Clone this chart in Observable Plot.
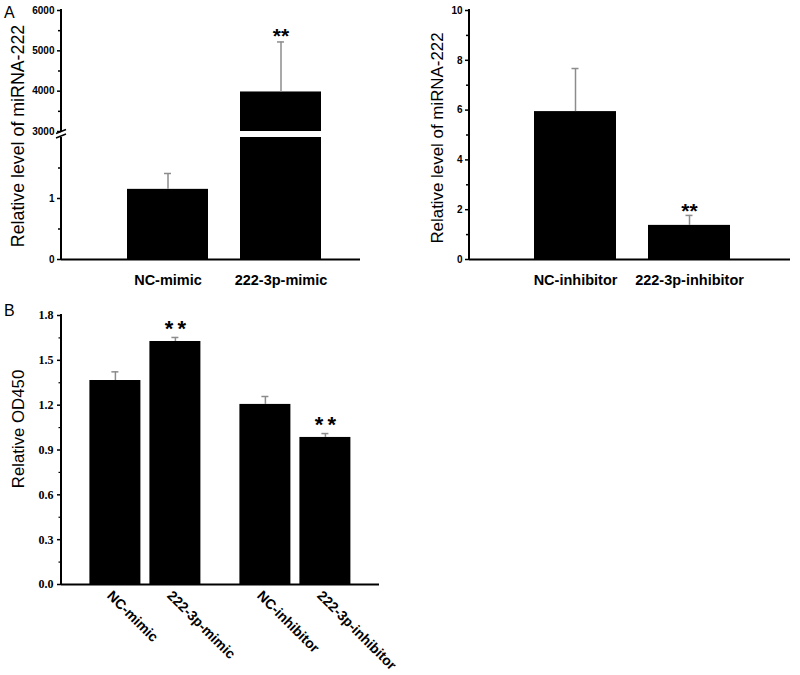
<!DOCTYPE html>
<html><head><meta charset="utf-8">
<script src="https://cdn.jsdelivr.net/npm/d3@7"></script>
<script src="https://cdn.jsdelivr.net/npm/@observablehq/plot@0.6"></script>
<style>
html,body{margin:0;padding:0;background:#fff}
#root{position:relative;width:800px;height:675px;overflow:hidden;background:#fff;font-family:"Liberation Sans",Arial,sans-serif;color:#000}
#root svg{overflow:visible;display:block}
.ytitle{position:absolute;white-space:nowrap;transform:translate(-50%,-50%) rotate(-90deg);line-height:1;font-family:"Liberation Sans",Arial,sans-serif}
.tag{position:absolute;font-size:16px;line-height:1;font-family:"Liberation Sans",Arial,sans-serif}
</style></head><body><div id="root"></div>
<script>
// ---------- data ----------
const mimicGroups = ["NC-mimic", "222-3p-mimic"];
const mimicLevel = [1.15, 3980];
const mimicSE = [0.26, 1240];
const mimicSig = ["", "**"];
const mimicUpperTicks = [3000, 4000, 5000, 6000];
const mimicUpperMinor = [3500, 4500, 5500];
const mimicLowerTicks = [0, 1];
const mimicLowerMinor = [0.5, 1.5];

const inhibGroups = ["NC-inhibitor", "222-3p-inhibitor"];
const inhibLevel = [5.94, 1.37];
const inhibSE = [1.73, 0.40];
const inhibSig = ["", "**"];
const inhibTicks = [0, 2, 4, 6, 8, 10];
const inhibMinor = [1, 3, 5, 7, 9];

const odLabels = ["NC-mimic", "222-3p-mimic", "NC-inhibitor", "222-3p-inhibitor"];
const odSet = ["mimic", "mimic", "inhibitor", "inhibitor"];
const odCond = ["NC", "222-3p", "NC", "222-3p"];
const odValue = [1.365, 1.626, 1.205, 0.984];
const odSE = [0.058, 0.027, 0.053, 0.026];
const odSig = ["", "**", "", "**"];
const odTicks = [0, 0.3, 0.6, 0.9, 1.2, 1.5, 1.8];
const odMinor = [0.15, 0.45, 0.75, 1.05, 1.35, 1.65];
const odSetOrder = ["mimic", "inhibitor"];
const odCondOrder = ["NC", "222-3p"];

// ---------- helpers ----------
const sans = '"Liberation Sans", Arial, Helvetica, sans-serif';
const serif = '"Liberation Serif", "Times New Roman", Times, serif';
const errColor = "#8c8c8c";
const root = document.getElementById("root");

function mount(svg, left, top, w, h) {
  const d = document.createElement("div");
  d.style.cssText = `position:absolute;left:${left}px;top:${top}px;width:${w}px;height:${h}px;`;
  d.appendChild(svg); root.appendChild(d); return svg;
}
function vline(svg, x, y1, y2) {
  d3.select(svg).append("line").attr("x1", x).attr("x2", x).attr("y1", y1).attr("y2", y2)
    .attr("stroke", "#000").attr("stroke-width", 2);
}
function addText(cls, txt, left, top, size) {
  const d = document.createElement("div");
  d.className = cls; d.textContent = txt;
  d.style.left = left + "px"; d.style.top = top + "px";
  if (size) d.style.fontSize = size + "px";
  root.appendChild(d);
}
function barMarks(data, x, capInset) {
  return [
    Plot.barY(data, {x, y: "level", fill: "#000", clip: true}),
    Plot.ruleX(data, {x, y1: "level", y2: d => d.level + d.se, stroke: errColor, strokeWidth: 1.5, clip: true}),
    Plot.tickY(data, {x, y: d => d.level + d.se, stroke: errColor, strokeWidth: 1.5, insetLeft: capInset, insetRight: capInset, clip: true})
  ];
}

const mimicData = mimicGroups.map((g, i) => ({group: g, level: mimicLevel[i], se: mimicSE[i], sig: mimicSig[i]}));
const inhibData = inhibGroups.map((g, i) => ({group: g, level: inhibLevel[i], se: inhibSE[i], sig: inhibSig[i]}));
const odData = odLabels.map((g, i) => ({label: g, set: odSet[i], cond: odCond[i], level: odValue[i], se: odSE[i], sig: odSig[i]}));

const styleA = {background: "transparent", fontFamily: sans, fontSize: "10px", fontWeight: "bold", color: "#000"};
const tickA = {fontSize: 10, fontFamily: sans, fontWeight: "bold"};

// ---------- Panel A left : upper segment (broken axis) ----------
const aUpper = Plot.plot({
  width: 360, height: 131, marginTop: 10, marginBottom: 0, marginLeft: 61, marginRight: 0,
  x: {domain: mimicGroups, range: [127, 321], paddingInner: 0.286, paddingOuter: 0, axis: null},
  y: {domain: [3000, 6000], label: null},
  style: styleA,
  marks: [
    ...barMarks(mimicData, "group", 37),
    Plot.text(mimicData, {x: "group", y: d => d.level + d.se, text: "sig", fontSize: 21, fontWeight: "bold", dy: -6}),
    Plot.axisY({ticks: mimicUpperTicks, tickSize: 4, tickPadding: 3, strokeWidth: 1.5, tickFormat: d => String(d), label: null, ...tickA}),
    Plot.axisY({ticks: mimicUpperMinor, tickSize: 3, strokeWidth: 1.5, tickFormat: () => "", label: null})
  ]
});
mount(aUpper, 0, 0, 360, 131);
vline(aUpper, 61, 9, 131);
// break marks on the axis
d3.select(aUpper).append("line").attr("x1", 56).attr("y1", 133.5).attr("x2", 66).attr("y2", 129.5).attr("stroke", "#000").attr("stroke-width", 1.5);
d3.select(aUpper).append("line").attr("x1", 56).attr("y1", 138).attr("x2", 66).attr("y2", 134).attr("stroke", "#000").attr("stroke-width", 1.5);

// ---------- Panel A left : lower segment ----------
const aLower = Plot.plot({
  width: 360, height: 175, marginTop: 11, marginBottom: 42, marginLeft: 61, marginRight: 0,
  x: {domain: mimicGroups, range: [127, 321], paddingInner: 0.286, paddingOuter: 0, label: null},
  y: {domain: [0, 2], label: null},
  style: styleA,
  marks: [
    ...barMarks(mimicData, "group", 37),
    Plot.ruleY([0], {strokeWidth: 2}),
    Plot.axisY({ticks: mimicLowerTicks, tickSize: 4, tickPadding: 3, strokeWidth: 1.5, tickFormat: d => String(d), label: null, ...tickA}),
    Plot.axisY({ticks: mimicLowerMinor, tickSize: 3, strokeWidth: 1.5, tickFormat: () => "", label: null}),
    Plot.axisX({tickSize: 0, tickPadding: 15, fontSize: 14.5, fontWeight: "bold", fontFamily: sans, label: null})
  ]
});
mount(aLower, 0, 126, 360, 175);
vline(aLower, 61, 11, 134);

// ---------- Panel A right ----------
const aRight = Plot.plot({
  width: 400, height: 301, marginTop: 10, marginBottom: 42, marginLeft: 69, marginRight: 10,
  x: {domain: inhibGroups, range: [134, 330], paddingInner: 0.281, paddingOuter: 0, label: null},
  y: {domain: [0, 10], label: null},
  style: styleA,
  marks: [
    ...barMarks(inhibData, "group", 37.5),
    Plot.text(inhibData, {x: "group", y: d => d.level + d.se, text: "sig", fontSize: 21, fontWeight: "bold", dy: -4}),
    Plot.ruleY([0], {strokeWidth: 2}),
    Plot.axisY({ticks: inhibTicks, tickSize: 4, tickPadding: 3, strokeWidth: 1.5, tickFormat: d => String(d), label: null, ...tickA}),
    Plot.axisY({ticks: inhibMinor, tickSize: 3, strokeWidth: 1.5, tickFormat: () => "", label: null}),
    Plot.axisX({tickSize: 0, tickPadding: 15, fontSize: 14.5, fontWeight: "bold", fontFamily: sans, label: null})
  ]
});
mount(aRight, 400, 0, 400, 301);
vline(aRight, 69, 9, 260);

// ---------- Panel B : axes layer ----------
const styleB = {background: "transparent", fontFamily: serif, fontSize: "12px", fontWeight: "bold", color: "#000"};
const bAxes = Plot.plot({
  width: 380, height: 375, marginTop: 15, marginBottom: 91, marginLeft: 61, marginRight: 1,
  y: {domain: [0, 1.8], label: null},
  style: styleB,
  marks: [
    Plot.ruleY([0], {strokeWidth: 2}),
    Plot.axisY({ticks: odTicks, tickSize: 4, tickPadding: 4, strokeWidth: 1.5, tickFormat: d3.format(".1f"), label: null,
      fontFamily: serif, fontSize: 12, fontWeight: "bold"}),
    Plot.axisY({ticks: odMinor, tickSize: 2.5, strokeWidth: 1.2, tickFormat: () => "", label: null})
  ]
});
mount(bAxes, 0, 300, 380, 375);
vline(bAxes, 61, 14, 285);

// ---------- Panel B : grouped bars layer ----------
const bBars = Plot.plot({
  width: 380, height: 375, marginTop: 15, marginBottom: 91, marginLeft: 69.6, marginRight: 9.9,
  facet: {data: odData, x: "set"},
  fx: {domain: odSetOrder, padding: 0, axis: null, label: null},
  x: {domain: odCondOrder, paddingInner: 0.157, paddingOuter: 0.32, axis: null, label: null},
  y: {domain: [0, 1.8], axis: null, label: null},
  style: {...styleB, fontFamily: sans},
  marks: [
    ...barMarks(odData, "cond", 22),
    Plot.text(odData, {x: "cond", y: d => d.level + d.se, text: d => d.sig.split("").join("\u2009"), fontSize: 22, fontWeight: "bold", dy: -9, fontFamily: sans}),
    Plot.text(odData, {x: "cond", text: "label", frameAnchor: "bottom", rotate: 45, textAnchor: "start", lineAnchor: "top", dx: -2, dy: 5, fontSize: 14, fontWeight: "bold", fontFamily: sans})
  ]
});
mount(bBars, 0, 300, 380, 375);

// ---------- titles and panel tags ----------
addText("ytitle", "Relative level of miRNA-222", 19, 136, 17.8);
addText("ytitle", "Relative level of miRNA-222", 437.5, 137.5, 16.9);
addText("ytitle", "Relative OD450", 19, 429, 16.8);
addText("tag", "A", 4, 5);
addText("tag", "B", 4, 303);
</script>
</body></html>
